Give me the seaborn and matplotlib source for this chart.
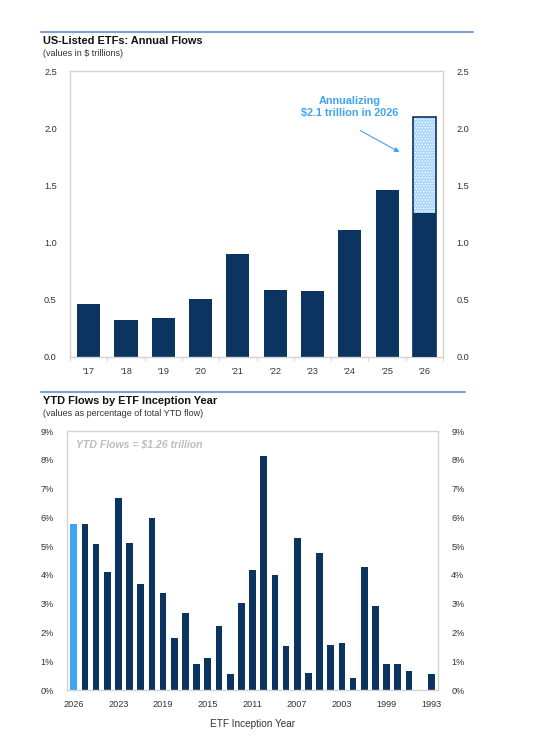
import pandas as pd
import matplotlib.pyplot as plt
import seaborn as sns
from matplotlib.lines import Line2D
from matplotlib.patches import Rectangle

# ---- data ----
flow_years = ["'17", "'18", "'19", "'20", "'21", "'22", "'23", "'24", "'25", "'26"]
annual_flows = [0.46, 0.32, 0.34, 0.51, 0.90, 0.59, 0.58, 1.11, 1.46, 1.26]
annualized_2026 = 2.10

inception_pos = list(range(33))
inception_share = [5.76, 5.76, 5.06, 4.09, 6.66, 5.10, 3.70, 5.98, 3.38, 1.81,
                   2.66, 0.89, 1.10, 2.22, 0.54, 3.04, 4.17, 8.13, 3.98, 1.52,
                   5.27, 0.58, 4.75, 1.56, 1.64, 0.42, 4.26, 2.91, 0.90, 0.90,
                   0.67, 0.0, 0.54]
inception_ticks = [0, 4, 8, 12, 16, 20, 24, 28, 32]
inception_labels = ['2026', '2023', '2019', '2015', '2011', '2007', '2003', '1999', '1993']

NAVY = '#0b3460'
LIGHT = '#3fa4f2'
GRID = '#d3d3d3'
TICK = 6.6

sns.set_style("white")
plt.rcParams['font.family'] = ['Liberation Sans', 'DejaVu Sans']
plt.rcParams['hatch.linewidth'] = 0.6

fig = plt.figure(figsize=(5.37, 7.5), dpi=100)


def frame(ax):
    for s in ax.spines.values():
        s.set_color(GRID)
        s.set_linewidth(1.0)
    ax.tick_params(axis='y', labelright=True, left=False, right=False,
                   labelsize=TICK, labelcolor='#333333', pad=6)
    ax.set_xlabel('')
    ax.set_ylabel('')


# ---------- top chart ----------
ax1 = fig.add_axes([0.1304, 0.524, 0.6946, 0.3813])
projected = annual_flows[:-1] + [annualized_2026]
df_top = pd.DataFrame({'year': flow_years, 'flow': annual_flows, 'proj': projected})

sns.barplot(data=df_top, x='year', y='proj', color='#acd6f9', saturation=1,
            width=0.62, edgecolor='white', linewidth=0, hatch='......', ax=ax1)
last = ax1.patches[-1]
sns.barplot(data=df_top, x='year', y='flow', color=NAVY, saturation=1,
            width=0.62, linewidth=0, ax=ax1)
ax1.add_patch(Rectangle(last.get_xy(), last.get_width(), last.get_height(),
                        fill=False, edgecolor=NAVY, linewidth=1.2, zorder=3))

ax1.set_ylim(0, 2.5)
ax1.set_xlim(-0.5, len(flow_years) - 0.5)
ax1.set_yticks([0, 0.5, 1.0, 1.5, 2.0, 2.5])
ax1.set_yticklabels(['0.0', '0.5', '1.0', '1.5', '2.0', '2.5'])
frame(ax1)
ax1.set_xticks([i + 0.5 for i in range(-1, len(flow_years))], minor=True)
ax1.tick_params(axis='x', which='minor', bottom=True, length=3, color=GRID, width=0.8)
ax1.tick_params(axis='x', which='major', bottom=False, labelsize=TICK,
                labelcolor='#333333', pad=4)

ax1.text(7.0, 2.185, 'Annualizing\n$2.1 trillion in 2026', ha='center', va='center',
         color=LIGHT, fontsize=7.8, fontweight='bold', linespacing=1.3)
ax1.annotate('', xy=(8.4, 1.78), xytext=(7.22, 1.99),
             arrowprops=dict(arrowstyle='-|>', color=LIGHT, lw=0.8,
                             mutation_scale=7))

# ---------- bottom chart ----------
ax2 = fig.add_axes([0.1248, 0.08, 0.6909, 0.3453])
df_bot = pd.DataFrame({'pos': inception_pos, 'share': inception_share})
bar_colors = [LIGHT] + [NAVY] * (len(inception_pos) - 1)
sns.barplot(data=df_bot, x='pos', y='share', hue='pos', palette=bar_colors,
            saturation=1, width=0.6, linewidth=0, legend=False, ax=ax2)
ax2.set_ylim(0, 9)
ax2.set_xlim(-0.6, len(inception_pos) - 0.4)
ax2.set_yticks(range(10))
ax2.set_yticklabels([f'{i}%' for i in range(10)])
frame(ax2)
ax2.set_xticks(inception_ticks)
ax2.set_xticklabels(inception_labels)
ax2.tick_params(axis='x', bottom=False, labelsize=TICK, labelcolor='#333333', pad=4)
ax2.set_xlabel('ETF Inception Year', fontsize=7.2, color='#333333', labelpad=7)
ax2.text(0.024, 0.95, 'YTD Flows = $1.26 trillion', transform=ax2.transAxes,
         ha='left', va='center', fontsize=7.6, fontstyle='italic',
         fontweight='bold', color='#bdbdbd')

# ---------- headers ----------
fig.add_artist(Line2D([0.0764, 0.881], [0.9573, 0.9573], color='#7fa0d4', lw=1.5))
fig.add_artist(Line2D([0.0764, 0.866], [0.4773, 0.4773], color='#7fa0d4', lw=1.5))
fig.text(0.080, 0.9453, 'US-Listed ETFs: Annual Flows', fontsize=7.9,
         fontweight='bold', va='center', color='#111111')
fig.text(0.080, 0.928, '(values in $ trillions)', fontsize=6.5, va='center',
         color='#333333')
fig.text(0.080, 0.4653, 'YTD Flows by ETF Inception Year', fontsize=7.9,
         fontweight='bold', va='center', color='#111111')
fig.text(0.080, 0.448, '(values as percentage of total YTD flow)', fontsize=6.5,
         va='center', color='#333333')

fig.savefig('out.png', dpi=100, facecolor='white')
